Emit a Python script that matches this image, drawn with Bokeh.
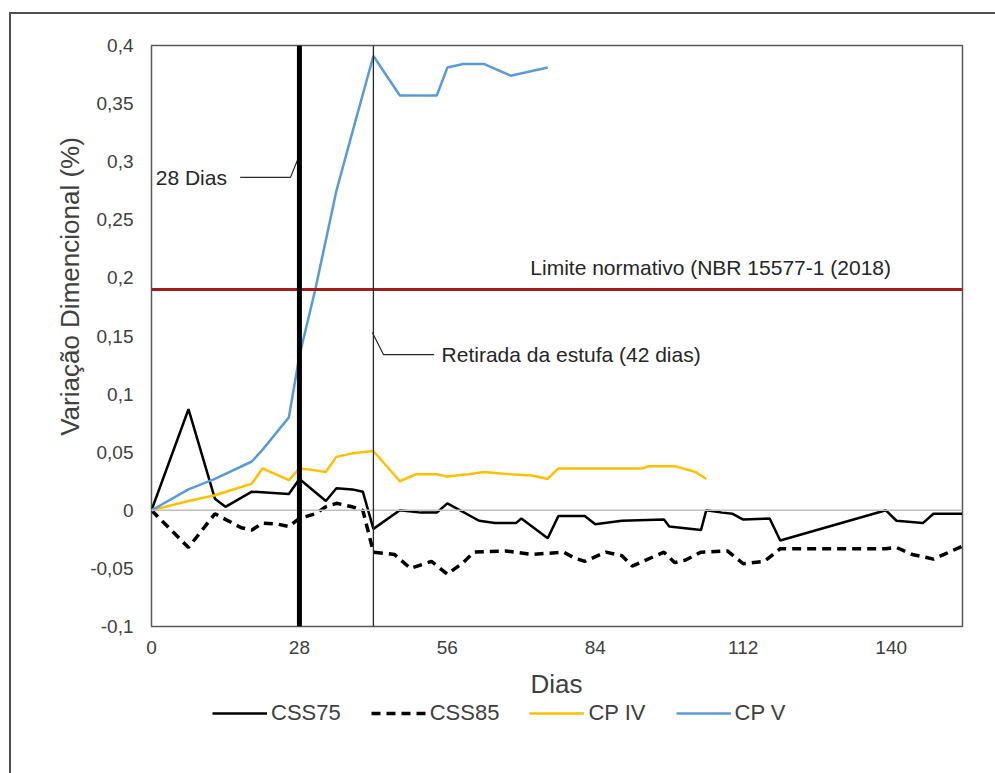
import math
from bokeh.plotting import figure
from bokeh.layouts import column, row
from bokeh.models import (Range1d, FixedTicker, Label, Span, Legend, LegendItem,
                          CustomJSTickFormatter)
from bokeh.embed import file_html
from bokeh.resources import INLINE

# Dimensional variation (%) of mortar bars over time (days)
css75_days = [0, 7, 12, 14, 19, 26, 28, 33, 35, 38, 40, 42, 47, 51, 54, 56, 62, 65, 69, 70,
              75, 77, 82, 84, 89, 97, 98, 104, 105, 108, 110, 112, 117, 119, 139, 141, 146,
              148, 153.4]
css75_vals = [0, 0.087, 0.01, 0.003, 0.016, 0.014, 0.027, 0.008, 0.019, 0.018, 0.016,
              -0.016, 0, -0.002, -0.002, 0.006, -0.009, -0.011, -0.011, -0.007, -0.024,
              -0.005, -0.005, -0.012, -0.009, -0.008, -0.014, -0.017, 0, -0.002, -0.003,
              -0.008, -0.007, -0.026, 0, -0.009, -0.011, -0.003, -0.003]

css85_days = [0, 7, 12, 17, 19, 21, 24, 26, 28, 31, 33, 35, 38, 40, 42, 46, 49, 53, 56, 59,
              61, 67, 72, 75, 78, 80, 82, 86, 89, 91, 93, 97, 99, 101, 104, 109, 112, 116,
              119, 139, 141, 144, 148, 150, 153.4]
css85_vals = [0, -0.032, -0.003, -0.015, -0.017, -0.011, -0.012, -0.014, -0.007, -0.003,
              0.003, 0.006, 0.003, 0, -0.036, -0.038, -0.05, -0.044, -0.055, -0.045, -0.036,
              -0.035, -0.038, -0.037, -0.036, -0.041, -0.044, -0.036, -0.039, -0.048, -0.044,
              -0.036, -0.045, -0.043, -0.036, -0.035, -0.046, -0.044, -0.033, -0.033, -0.032,
              -0.038, -0.042, -0.038, -0.031]

cpiv_days = [0, 7, 12, 17, 19, 21, 26, 28, 30, 33, 35, 38, 42, 47, 50, 54, 56, 60, 63, 65,
             68, 72, 75, 77, 93, 94, 99, 103, 105]
cpiv_vals = [0, 0.008, 0.013, 0.02, 0.023, 0.036, 0.026, 0.036, 0.035, 0.033, 0.046, 0.049,
             0.051, 0.025, 0.031, 0.031, 0.029, 0.031, 0.033, 0.032, 0.031, 0.030, 0.027,
             0.036, 0.036, 0.038, 0.038, 0.033, 0.027]

cpv_days = [0, 7, 12, 19, 21, 26, 28, 31, 35, 38, 42, 47, 54, 56, 59, 63, 68, 72, 75]
cpv_vals = [0, 0.018, 0.027, 0.042, 0.052, 0.080, 0.133, 0.19, 0.275, 0.325, 0.391, 0.357,
            0.357, 0.381, 0.384, 0.384, 0.374, 0.378, 0.381]

series_names = ["CSS75", "CSS85", "CP IV", "CP V"]

limit_value = 0.19          # NBR 15577-1 (2018) limit
cure_day = 28
oven_day = 42

x_ticks = [0, 28, 56, 84, 112, 140]
y_ticks = [-0.1, -0.05, 0, 0.05, 0.1, 0.15, 0.2, 0.25, 0.3, 0.35, 0.4]

FONT = "Liberation Sans"
TXT = "#404040"

# line styles per series
styles = [dict(line_color="#000000", line_width=2.5),
          dict(line_color="#000000", line_width=3.5, line_dash="9 6"),
          dict(line_color="#ffc000", line_width=2.5),
          dict(line_color="#5b9bd5", line_width=2.5)]
series = [(css75_days, css75_vals), (css85_days, css85_vals),
          (cpiv_days, cpiv_vals), (cpv_days, cpv_vals)]


def blank_fig(w, h, y_range=(0, 1)):
    f = figure(width=w, height=h, output_backend="svg", toolbar_location=None,
               x_range=Range1d(0, 1), y_range=Range1d(*y_range),
               x_axis_location=None, y_axis_location=None, min_border=0)
    f.outline_line_color = None
    f.grid.visible = False
    f.background_fill_color = "white"
    f.border_fill_color = "white"
    return f


# ---- main chart ----
p = figure(width=910, height=646, output_backend="svg", toolbar_location=None,
           x_range=Range1d(0, 153.5), y_range=Range1d(-0.1, 0.4),
           min_border_left=66, min_border_right=33, min_border_top=31,
           min_border_bottom=34)
p.background_fill_color = "white"
p.border_fill_color = "white"
p.outline_line_color = "#595959"
p.outline_line_width = 1.5
p.grid.visible = False

p.xaxis.ticker = FixedTicker(ticks=x_ticks)
p.yaxis.ticker = FixedTicker(ticks=y_ticks)
p.yaxis.formatter = CustomJSTickFormatter(code="""
    let s = tick.toFixed(2).replace(/0+$/, '').replace(/\\.$/, '');
    return s.replace('.', ',');
""")
for ax in (p.xaxis[0], p.yaxis[0]):
    ax.axis_line_color = None
    ax.major_tick_line_color = None
    ax.minor_tick_line_color = None
    ax.major_label_text_font = FONT
    ax.major_label_text_font_size = "19px"
    ax.major_label_text_color = TXT
p.xaxis.major_label_standoff = 8
p.yaxis.major_label_standoff = 12

# zero line and reference markers
p.add_layout(Span(location=0, dimension="width", line_color="#bfbfbf", line_width=1.5))
p.add_layout(Span(location=limit_value, dimension="width", line_color="#a51c1c", line_width=3))
p.add_layout(Span(location=cure_day, dimension="height", line_color="#000000", line_width=5))
p.add_layout(Span(location=oven_day, dimension="height", line_color="#262626", line_width=1.3))

for (xs, ys), st in zip(series, styles):
    p.line(xs, ys, **st)

# callout leaders
p.line([16.8, 26.3, 27.6], [0.2865, 0.2865, 0.301], line_color="#262626", line_width=1.2)
p.line([41.8, 43.9, 53.5], [0.153, 0.134, 0.134], line_color="#262626", line_width=1.2)

label_style = dict(text_font=FONT, text_font_size="21px", text_color="#262626",
                   text_baseline="middle")
p.add_layout(Label(x=0.8, y=0.2865, text="28 Dias", **label_style))
p.add_layout(Label(x=54.9, y=0.134, text="Retirada da estufa (42 dias)", **label_style))
p.add_layout(Label(x=71.7, y=0.209, text="Limite normativo (NBR 15577-1 (2018)", **label_style))

# ---- y axis title strip ----
ylab = blank_fig(74, 646)
ylab.add_layout(Label(x=58, y=340, x_units="screen", y_units="screen",
                      text="Variação Dimencional (%)", angle=math.pi / 2,
                      text_align="center", text_baseline="middle",
                      text_font=FONT, text_font_size="26px", text_color=TXT))

# ---- x axis title and legend strip ----
# the series are drawn here only as legend samples; the y range keeps the lines out of view
bottom = blank_fig(984, 113, y_range=(1000, 1001))
bottom.add_layout(Label(x=545, y=90, x_units="screen", y_units="screen", text="Dias",
                        text_align="center", text_baseline="middle",
                        text_font=FONT, text_font_size="26px", text_color=TXT))
items = []
for name, (xs, ys), st in zip(series_names, series, styles):
    r = bottom.line(xs, ys, **st)
    items.append(LegendItem(label=name, renderers=[r]))
legend = Legend(items=items, orientation="horizontal", location=(201, 47),
                label_text_font=FONT, label_text_font_size="22px", label_text_color=TXT,
                glyph_width=55, label_standoff=4, spacing=30, padding=0, margin=0,
                border_line_color=None, background_fill_alpha=0)
bottom.add_layout(legend, "center")

layout = column(row(ylab, p), bottom, margin=(12, 0, 0, 9))
layout.styles = {"border-top": "2px solid #505050", "border-left": "2px solid #505050"}

open("out.html", "w").write(file_html(layout, INLINE))
